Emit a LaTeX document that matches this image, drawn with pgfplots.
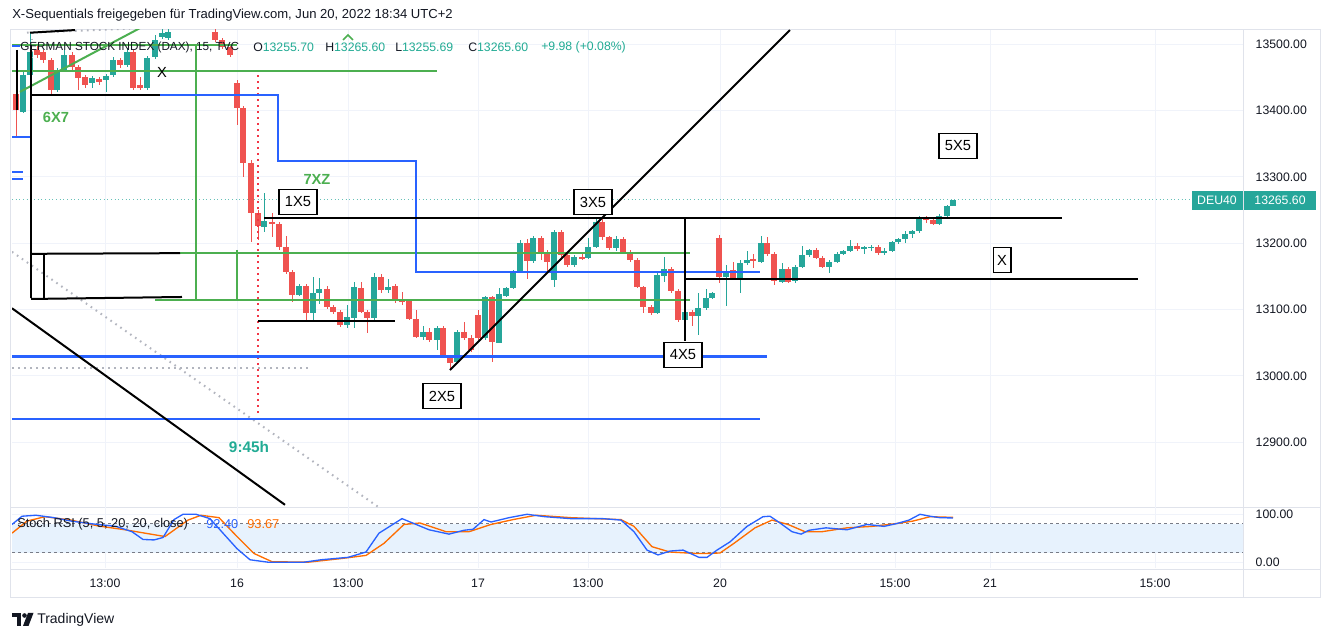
\documentclass[border=0pt]{standalone}
\usepackage{pgfplots}
\pgfplotsset{compat=1.18}
\usepackage{pgfplotstable}
\usepackage{fontspec}
\setmainfont{Liberation Sans}
\definecolor{tvtext}{HTML}{131722}
\definecolor{tvgrid}{HTML}{F0F3FA}
\definecolor{tvborder}{HTML}{E0E3EB}
\definecolor{tvgreen}{HTML}{26A69A}
\definecolor{tvred}{HTML}{EF5350}
\definecolor{tvteal}{HTML}{22AB94}
\definecolor{drgreen}{HTML}{4CAF50}
\definecolor{drblue}{HTML}{2962FF}
\definecolor{dotgray}{HTML}{B2B5BE}
\definecolor{dotred}{HTML}{F23645}
\definecolor{rsiblue}{HTML}{2962FF}
\definecolor{rsiorange}{HTML}{FF6D00}
\definecolor{tvband}{HTML}{E7F2FD}
\definecolor{dashgray}{HTML}{787B86}

\pgfplotstableread{
x o h l c
23 13398 13458 13396 13453
30 13453 13517 13449 13488
57 13431 13464 13428 13461
64 13461 13491 13458 13483
92 13441 13452 13434 13449
106 13446 13455 13428 13452
113 13453 13480 13450 13476
127 13468 13494 13465 13488
147 13434 13482 13431 13479
155 13480 13514 13477 13506
162 13511 13524 13508 13517
168 13509 13530 13506 13518
264 13224 13276 13217 13233
299 13122 13139 13121 13136
313 13095 13149 13084 13125
319 13125 13148 13108 13131
347 13077 13107 13072 13089
354 13087 13142 13072 13134
374 13087 13155 13084 13149
388 13130 13146 13125 13134
423 13059 13075 13054 13066
437 13054 13075 13039 13072
457 13021 13069 13020 13066
485 13057 13121 13054 13119
499 13050 13133 13049 13124
506 13121 13134 13119 13133
513 13133 13160 13131 13157
520 13157 13205 13155 13200
533 13173 13211 13170 13208
554 13145 13220 13134 13217
574 13167 13182 13164 13179
588 13178 13208 13176 13194
596 13194 13236 13193 13232
616 13193 13211 13188 13206
657 13095 13155 13093 13152
664 13151 13179 13142 13161
685 13084 13099 13066 13096
698 13090 13125 13062 13102
706 13102 13131 13099 13118
712 13118 13127 13116 13125
726 13149 13167 13106 13157
740 13146 13175 13125 13170
747 13170 13188 13167 13175
761 13172 13211 13170 13200
782 13142 13170 13140 13161
795 13143 13167 13140 13164
802 13164 13196 13162 13182
809 13182 13192 13179 13190
829 13164 13175 13155 13172
837 13172 13187 13170 13184
843 13184 13190 13182 13188
850 13188 13205 13186 13196
864 13191 13196 13184 13194
871 13193 13197 13188 13195
884 13185 13193 13182 13188
892 13188 13203 13187 13202
898 13202 13208 13199 13206
905 13206 13218 13200 13214
912 13214 13220 13208 13218
919 13218 13241 13215 13239
939 13229 13244 13228 13241
947 13241 13258 13239 13256
953 13255.70 13265.60 13255.69 13265.60
}\upcandles

\pgfplotstableread{
x o h l c
16 13425 13428 13360 13401
37 13491 13498 13479 13483
43 13488 13491 13471 13476
51 13476 13479 13423 13431
72 13483 13488 13461 13465
78 13465 13468 13431 13449
85 13450 13453 13434 13438
99 13447 13450 13438 13443
120 13476 13479 13464 13468
133 13488 13491 13431 13434
140 13438 13450 13431 13434
215 13518 13524 13503 13506
222 13506 13509 13492 13495
230 13495 13498 13480 13483
237 13441 13446 13378 13404
243 13404 13407 13300 13321
251 13321 13325 13202 13245
258 13245 13250 13205 13226
272 13232 13245 13209 13229
279 13229 13232 13190 13194
286 13194 13211 13154 13157
292 13157 13160 13111 13122
306 13136 13139 13084 13095
327 13131 13136 13101 13104
333 13104 13107 13093 13096
340 13096 13099 13074 13077
361 13133 13142 13095 13096
367 13096 13099 13065 13087
381 13149 13154 13125 13130
395 13136 13139 13110 13113
402 13114 13127 13107 13112
409 13113 13114 13084 13086
416 13086 13099 13057 13059
429 13066 13072 13051 13054
443 13072 13075 13027 13029
450 13029 13032 13009 13020
464 13066 13081 13054 13057
471 13057 13062 13036 13039
478 13092 13099 13054 13057
492 13119 13121 13021 13051
527 13200 13206 13146 13173
541 13208 13211 13175 13187
547 13187 13190 13157 13172
561 13217 13220 13175 13182
567 13182 13185 13164 13167
582 13179 13185 13175 13177
602 13232 13239 13205 13209
609 13209 13211 13190 13193
623 13206 13209 13184 13187
630 13187 13190 13172 13175
637 13175 13178 13133 13134
643 13134 13136 13095 13104
651 13104 13107 13092 13095
671 13161 13164 13125 13128
678 13128 13131 13081 13084
692 13096 13099 13075 13090
719 13208 13212 13140 13149
733 13160 13172 13145 13146
753 13176 13184 13163 13174
767 13200 13209 13181 13184
774 13184 13187 13137 13143
788 13161 13164 13140 13142
816 13190 13193 13176 13178
822 13178 13181 13162 13164
857 13196 13200 13188 13191
878 13194 13197 13182 13185
926 13239 13241 13230 13235
933 13235 13238 13228 13229
}\downcandles

\newcommand{\tvf}[1]{\fontsize{#1}{#1}\selectfont}

\begin{document}
\begin{tikzpicture}
\path[use as bounding box] (0,0) rectangle (999pt,479.25pt);
\fill[white] (0,0) rectangle (999pt,479.25pt);

% frame
\begin{scope}[x=0.75pt,y=-0.75pt,yshift=479.25pt]
\draw[tvborder, line width=0.75pt] (10,30) rectangle (1320,598);
\draw[tvborder, line width=0.75pt] (1243,30) -- (1243,598);
\draw[tvborder, line width=0.75pt] (10,508) -- (1320,508);
\draw[tvborder, line width=0.75pt] (10,570) -- (1320,570);
\end{scope}

% ---------------- main price panel ----------------
\begin{axis}[
  at={(9pt,98.25pt)}, anchor=south west,
  scale only axis, width=923.25pt, height=358.5pt,
  xmin=12, xmax=1243, ymin=12801.2, ymax=13521.1,
  axis line style={draw=none},
  xtick={105,237,348,478,588,720,895,990,1155}, xticklabels={},
  ytick={12900,13000,13100,13200,13300,13400,13500},
  scaled y ticks=false,
  yticklabel pos=right,
  tick style={draw=none},
  grid=major, major grid style={draw=tvgrid, line width=0.75pt},
  yticklabel style={font=\tvf{9.2pt}, text=tvtext, xshift=6pt,
    /pgf/number format/fixed, /pgf/number format/fixed zerofill,
    /pgf/number format/precision=2, /pgf/number format/1000 sep={},
    /pgf/number format/assume math mode=true},
  candle/.style={draw=none, mark=none, forget plot,
    error bars/.cd, y dir=both, y explicit, error mark=none},
]
% last price line
\addplot[tvgreen!70, dotted, line width=0.75pt, forget plot] coordinates {(12,13265.6) (1192,13265.6)};

% candles: wicks
\addplot[candle, error bar style={line width=0.75pt, draw=tvgreen, solid}]
  table[x=x, y expr={(\thisrow{h}+\thisrow{l})/2}, y error expr={(\thisrow{h}-\thisrow{l})/2}] {\upcandles};
\addplot[candle, error bar style={line width=0.75pt, draw=tvred, solid}]
  table[x=x, y expr={(\thisrow{h}+\thisrow{l})/2}, y error expr={(\thisrow{h}-\thisrow{l})/2}] {\downcandles};
% candles: bodies
\addplot[candle, error bar style={line width=3.8pt, draw=tvgreen, solid}]
  table[x=x, y expr={(\thisrow{o}+\thisrow{c})/2}, y error expr={abs(\thisrow{c}-\thisrow{o})/2}] {\upcandles};
\addplot[candle, error bar style={line width=3.8pt, draw=tvred, solid}]
  table[x=x, y expr={(\thisrow{o}+\thisrow{c})/2}, y error expr={abs(\thisrow{o}-\thisrow{c})/2}] {\downcandles};

% gray dotted drawings
\addplot[dotgray, line width=1.5pt, dash pattern=on 1.2pt off 3.3pt, forget plot] coordinates {(12,13187) (380,12801)};
\addplot[dotgray, line width=1.5pt, dash pattern=on 1.2pt off 3.3pt, forget plot] coordinates {(12,13012) (310,13012)};
\addplot[dotgray, line width=1.5pt, dash pattern=on 1.2pt off 3.3pt, forget plot] coordinates {(27,13517) (130,13523)};
\addplot[dotgray, line width=1.5pt, dash pattern=on 1.2pt off 3.3pt, forget plot] coordinates {(32,13517) (32,13476)};
% red dotted vertical
\addplot[dotred, line width=1.3pt, dash pattern=on 1.5pt off 3pt, forget plot] coordinates {(258,13453) (258,12941)};

% green drawings
\addplot[drgreen, line width=1.5pt, forget plot] coordinates {(12,13498) (237,13498)};
\addplot[drgreen, line width=1.5pt, forget plot] coordinates {(12,13459) (437,13459)};
\addplot[drgreen, line width=1.5pt, forget plot] coordinates {(20,13428) (140,13524)};
\addplot[drgreen, line width=1.2pt, forget plot] coordinates {(196,13498) (196,13114)};
\addplot[drgreen, line width=1.2pt, forget plot] coordinates {(237,13190) (237,13114)};
\addplot[drgreen, line width=1.5pt, forget plot] coordinates {(162,13185) (690,13185)};
\addplot[drgreen, line width=1.5pt, forget plot] coordinates {(155,13114) (690,13114)};

% blue drawings
\addplot[drblue, line width=1.5pt, forget plot] coordinates {(160,13423) (278,13423) (278,13324) (416,13324) (416,13157) (760,13157)};
\addplot[drblue, line width=2.2pt, forget plot] coordinates {(12,13029) (767,13029)};
\addplot[drblue, line width=1.8pt, forget plot] coordinates {(12,12935) (760,12935)};
\addplot[drblue, line width=1.8pt, forget plot] coordinates {(12,13360) (30,13360)};
\addplot[drblue, line width=1.8pt, forget plot] coordinates {(12,13307) (23,13307)};
\addplot[drblue, line width=1.8pt, forget plot] coordinates {(12,13297) (23,13297)};
\addplot[drblue, line width=1.8pt, forget plot] coordinates {(12,13497) (20,13497)};

% black drawings
\addplot[black, line width=1.5pt, forget plot] coordinates {(12,13102) (285,12806)};
\addplot[black, line width=1.5pt, forget plot] coordinates {(450,13009) (790,13521)};
\addplot[black, line width=1.5pt, forget plot] coordinates {(264,13238) (1062,13238)};
\addplot[black, line width=1.5pt, forget plot] coordinates {(685,13238) (685,13052)};
\addplot[black, line width=1.5pt, forget plot] coordinates {(685,13146) (1138,13146)};
\addplot[black, line width=1.5pt, forget plot] coordinates {(258,13083) (395,13083)};
\addplot[black, line width=1.5pt, forget plot] coordinates {(31,13498) (31,13117)};
\addplot[black, line width=1.5pt, forget plot] coordinates {(31,13184) (180,13185)};
\addplot[black, line width=1.5pt, forget plot] coordinates {(31,13116) (182,13119)};
\addplot[black, line width=1.2pt, forget plot] coordinates {(44,13184) (44,13116)};
\addplot[black, line width=1.5pt, forget plot] coordinates {(30,13423) (160,13423)};
\addplot[black, line width=1.2pt, forget plot] coordinates {(17,13491) (17,13401)};
\addplot[black, line width=1.5pt, forget plot] coordinates {(30,13517) (75,13521)};
\end{axis}

% ---------------- Stoch RSI panel ----------------
\begin{axis}[
  at={(9pt,53.25pt)}, anchor=south west,
  scale only axis, width=923.25pt, height=45pt,
  xmin=12, xmax=1243, ymin=-11, ymax=113,
  axis line style={draw=none},
  xtick={105,237,348,478,588,720,895,990,1155},
  xticklabels={13:00,16,13:00,17,13:00,20,15:00,21,15:00},
  ytick={0,100},
  yticklabel pos=right,
  tick style={draw=none},
  grid=major, major grid style={draw=tvgrid, line width=0.75pt},
  xticklabel style={font=\tvf{9.2pt}, text=tvtext, anchor=base, yshift=-15pt},
  yticklabel style={font=\tvf{9.2pt}, text=tvtext, xshift=6pt,
    /pgf/number format/fixed, /pgf/number format/fixed zerofill,
    /pgf/number format/precision=2, /pgf/number format/1000 sep={},
    /pgf/number format/assume math mode=true},
]
\addplot[fill=tvband, draw=none, forget plot] coordinates {(12,20) (1243,20) (1243,80) (12,80)} -- cycle;
\addplot[dashgray, line width=0.75pt, dash pattern=on 2.25pt off 2.25pt, forget plot] coordinates {(12,80) (1243,80)};
\addplot[dashgray, line width=0.75pt, dash pattern=on 2.25pt off 2.25pt, forget plot] coordinates {(12,20) (1243,20)};
% %D (orange)
\addplot[rsiorange, line width=1pt, forget plot] coordinates {
(12,61) (27,86) (45,95) (71,88) (98,76) (125,68) (165,54) (188,88) (201,98) (219,93)
(237,54) (254,19) (272,2) (308,1) (339,8) (366,15) (384,40) (404,79) (420,82) (446,64)
(469,64) (491,79) (513,89) (536,98) (571,93) (621,89) (634,75) (652,33) (670,22) (696,19)
(705,19) (720,20) (734,40) (755,72) (772,88) (788,79) (805,64) (822,64) (847,72) (872,75)
(897,81) (913,86) (930,95) (953,93.67)};
% %K (blue)
\addplot[rsiblue, line width=1pt, forget plot] coordinates {
(12,79) (22,96) (36,98) (54,93) (71,86) (89,81) (116,75) (132,64) (143,48) (154,47)
(163,52) (174,89) (183,100) (196,100) (210,91) (223,61) (237,29) (250,6) (268,1) (304,1)
(321,6) (348,11) (366,22) (379,61) (402,91) (429,68) (449,59) (464,67) (473,69) (484,89)
(491,84) (509,93) (527,100) (545,95) (571,91) (603,91) (621,88) (634,64) (647,26) (658,16)
(670,24) (683,26) (699,11) (707,11) (717,26) (730,43) (747,75) (763,95) (770,96) (780,82)
(792,64) (801,59) (809,67) (826,72) (847,68) (867,79) (884,75) (897,81) (909,88) (920,100)
(930,96) (940,93) (953,92.4)};
\end{axis}

% ---------------- texts and labels ----------------
\begin{scope}[x=0.75pt,y=-0.75pt,yshift=479.25pt]
\node[anchor=west, inner sep=0pt, text=tvtext, font=\tvf{9.8pt}] at (12,15) {X-Sequentials freigegeben für TradingView.com, Jun 20, 2022 18:34 UTC+2};
% legend
\node[anchor=west, inner sep=0pt, text=tvtext, font=\tvf{8.8pt}] at (20,47) {GERMAN STOCK INDEX (DAX), 15, TVC};
\node[anchor=west, inner sep=0pt, text=tvtext, font=\tvf{9.2pt}] at (253,47) {O\textcolor{tvteal}{13255.70}};
\node[anchor=west, inner sep=0pt, text=tvtext, font=\tvf{9.2pt}] at (325,47) {H\textcolor{tvteal}{13265.60}};
\node[anchor=west, inner sep=0pt, text=tvtext, font=\tvf{9.2pt}] at (395,47) {L\textcolor{tvteal}{13255.69}};
\node[anchor=west, inner sep=0pt, text=tvtext, font=\tvf{9.2pt}] at (468,47) {C\textcolor{tvteal}{13265.60}};
\node[anchor=west, inner sep=0pt, text=tvteal, font=\tvf{9.2pt}] at (541,47) {+9.98 (+0.08\%)};
% caret
\draw[drgreen, line width=1.2pt] (343,40) -- (348,35) -- (353,40);
% annotations
\node[text=black, font=\tvf{11pt}, inner sep=0pt] at (162,72) {X};
\node[text=drgreen, font=\bfseries\tvf{11pt}, inner sep=0pt] at (56,117) {6X7};
\node[text=drgreen, font=\bfseries\tvf{11pt}, inner sep=0pt] at (317,179) {7XZ};
\node[text=tvteal, font=\bfseries\tvf{11.5pt}, inner sep=0pt] at (249,447) {9:45h};
\tikzset{tvbox/.style={draw=black, line width=0.9pt, fill=white, text=black, font=\tvf{11pt}, inner xsep=4.5pt, inner ysep=0pt, minimum height=19pt}}
\node[tvbox] at (298,202) {1X5};
\node[tvbox] at (593,202) {3X5};
\node[tvbox] at (683,355) {4X5};
\node[tvbox] at (442,396) {2X5};
\node[tvbox] at (958,146) {5X5};
\node[tvbox, inner xsep=3pt] at (1002,260) {X};
% price label
\fill[tvgreen] (1192,191) rectangle (1242.5,210);
\fill[tvgreen] (1244,191) rectangle (1316,210);
\node[text=white, font=\tvf{9.2pt}, inner sep=0pt] at (1217,200.5) {DEU40};
\node[text=white, font=\tvf{9.2pt}, inner sep=0pt] at (1280,200.5) {13265.60};
% stoch rsi legend
\node[anchor=west, inner sep=0pt, text=tvtext, font=\tvf{9.6pt}] at (17,524) {Stoch RSI (5, 5, 20, 20, close)};
\node[anchor=west, inner sep=0pt, text=rsiblue, font=\tvf{9.6pt}] at (206,524) {92.40};
\node[anchor=west, inner sep=0pt, text=rsiorange, font=\tvf{9.6pt}] at (247,524) {93.67};
% TradingView logo
\fill[tvtext] (12,613) rectangle (21,617.5);
\fill[tvtext] (16.5,613) rectangle (21,626);
\fill[tvtext] (24.5,615.5) circle (2.3);
\fill[tvtext] (28,613) -- (33.5,613) -- (28.5,626) -- (23,626) -- cycle;
\node[anchor=west, inner sep=0pt, text=tvtext, font=\tvf{10.5pt}] at (37,620) {TradingView};
\end{scope}
\end{tikzpicture}
\end{document}
